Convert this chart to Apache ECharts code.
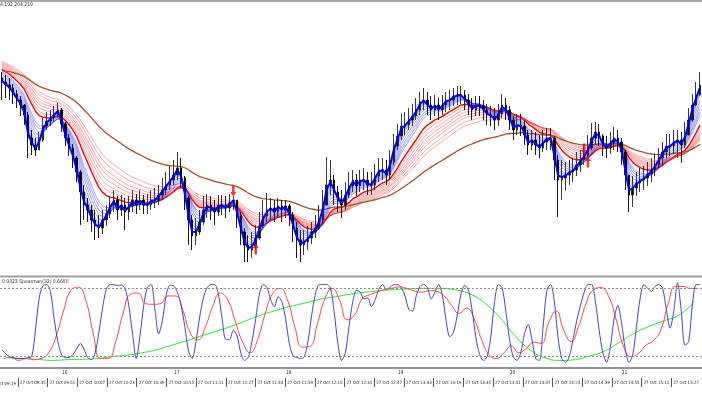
<!DOCTYPE html>
<html><head><meta charset="utf-8">
<script src="https://cdn.jsdelivr.net/npm/echarts@6/dist/echarts.min.js"></script>
<style>html,body{margin:0;padding:0;background:#fff;overflow:hidden}#c{width:702px;height:395px}</style>
</head><body><div id="c"></div>
<script>
// ---- price bars (2-minute bars) ----
const firstOpen = 204.22;
const closes = [
204.18,204.15,204.12,204.06,204.00,203.95,203.85,203.62,203.55,203.50,
203.60,203.74,203.79,203.82,203.86,203.90,203.76,203.62,203.52,203.42,
203.28,203.08,202.95,202.90,202.80,202.74,202.72,202.80,202.86,202.95,
203.00,202.90,202.95,202.88,202.94,203.00,202.95,203.00,202.95,202.95,
203.00,203.00,203.05,203.10,203.15,203.20,203.25,203.32,203.22,203.02,
202.80,202.64,202.68,202.78,202.90,202.95,202.92,202.88,202.95,202.95,
202.92,202.97,203.00,202.85,202.68,202.55,202.50,202.54,202.62,202.74,
202.84,202.90,202.92,202.88,202.94,202.90,202.94,202.85,202.72,202.60,
202.55,202.58,202.62,202.68,202.72,202.80,202.95,203.15,203.20,203.08,
203.00,202.95,203.05,203.14,203.20,203.14,203.20,203.20,203.15,203.15,
203.24,203.30,203.30,203.25,203.38,203.54,203.64,203.74,203.75,203.80,
203.84,203.90,203.98,204.00,203.95,203.90,203.95,203.90,203.95,204.00,
204.00,204.04,204.05,204.05,204.00,203.95,203.90,203.95,203.94,203.90,
203.85,203.84,203.80,203.86,203.95,203.90,203.80,203.70,203.75,203.74,
203.65,203.55,203.60,203.55,203.52,203.58,203.62,203.62,203.40,203.20,
203.22,203.25,203.28,203.30,203.35,203.40,203.45,203.52,203.62,203.68,
203.64,203.54,203.52,203.57,203.62,203.58,203.48,203.25,203.05,203.12,
203.17,203.20,203.22,203.26,203.30,203.35,203.42,203.48,203.54,203.54,
203.58,203.60,203.55,203.65,203.80,203.95,204.05,204.15];
const highs = [
204.28,204.25,204.22,204.16,204.10,204.04,203.96,203.88,203.70,203.62,
203.68,203.82,203.88,203.90,203.94,203.97,203.92,203.78,203.66,203.56,
203.44,203.30,203.15,203.02,202.95,202.90,202.85,202.90,202.95,203.04,
203.10,203.04,203.05,203.02,203.04,203.10,203.06,203.10,203.05,203.06,
203.10,203.12,203.15,203.22,203.28,203.34,203.40,203.48,203.42,203.24,
203.04,202.85,202.82,202.90,203.04,203.06,203.04,203.00,203.05,203.05,
203.04,203.06,203.04,203.00,202.88,202.72,202.65,202.68,202.75,202.88,
203.00,203.07,203.02,203.00,203.02,203.00,203.00,202.96,202.88,202.78,
202.70,202.70,202.74,202.78,202.85,202.95,203.10,203.43,203.40,203.25,
203.14,203.10,203.18,203.28,203.30,203.26,203.30,203.32,203.28,203.28,
203.36,203.42,203.42,203.40,203.50,203.66,203.76,203.86,203.88,203.92,
203.96,204.02,204.08,204.12,204.08,204.04,204.05,204.02,204.05,204.08,
204.10,204.12,204.14,204.14,204.10,204.06,204.02,204.04,204.04,204.00,
203.96,203.94,203.92,203.96,204.06,204.02,203.94,203.84,203.86,203.86,
203.80,203.70,203.70,203.68,203.65,203.70,203.72,203.72,203.64,203.45,
203.40,203.38,203.40,203.42,203.48,203.50,203.56,203.65,203.77,203.78,
203.76,203.66,203.64,203.68,203.73,203.70,203.62,203.50,203.25,203.24,
203.28,203.32,203.34,203.38,203.42,203.46,203.52,203.58,203.66,203.66,
203.70,203.70,203.68,203.78,203.92,204.06,204.18,204.28];
const lows = [
204.00,204.02,204.00,203.96,203.92,203.84,203.75,203.42,203.45,203.44,
203.50,203.58,203.70,203.74,203.78,203.82,203.68,203.54,203.44,203.32,
203.18,202.75,202.80,202.78,202.68,202.60,202.62,202.66,202.74,202.82,
202.88,202.80,202.84,202.70,202.80,202.88,202.86,202.90,202.86,202.86,
202.90,202.92,202.95,203.00,203.05,203.10,203.15,203.20,203.12,202.90,
202.55,202.50,202.55,202.65,202.75,202.82,202.80,202.75,202.84,202.85,
202.82,202.88,202.90,202.72,202.55,202.38,202.38,202.42,202.50,202.60,
202.72,202.78,202.80,202.78,202.82,202.78,202.82,202.74,202.58,202.42,
202.38,202.45,202.50,202.56,202.62,202.70,202.75,202.95,203.05,202.95,
202.88,202.82,202.90,203.02,203.08,203.04,203.08,203.10,203.05,203.05,
203.10,203.18,203.20,203.15,203.20,203.35,203.50,203.60,203.65,203.70,
203.74,203.80,203.85,203.90,203.85,203.80,203.84,203.80,203.85,203.88,
203.90,203.94,203.95,203.96,203.90,203.85,203.80,203.84,203.84,203.80,
203.75,203.74,203.70,203.74,203.82,203.80,203.70,203.60,203.65,203.64,
203.55,203.45,203.50,203.45,203.42,203.48,203.50,203.50,203.20,202.83,
203.00,203.10,203.15,203.18,203.24,203.28,203.35,203.42,203.50,203.55,
203.54,203.44,203.42,203.46,203.50,203.48,203.35,203.10,202.88,202.93,
203.04,203.08,203.10,203.14,203.18,203.24,203.32,203.35,203.42,203.44,
203.46,203.42,203.37,203.52,203.65,203.78,203.94,204.04];

// ---- moving-average ribbon settings (periods in bars, start values read at the left edge) ----
const thickPeriod = 1.5, thickSeed = 204.24;
const bluePeriods = [2, 2.5, 3, 4, 5, 6, 7, 8];
const blueSeeds   = [204.26, 204.27, 204.28, 204.29, 204.30, 204.31, 204.32, 204.33];
const redPeriods  = [12, 14, 16, 18, 20, 22, 25, 28];
const redSeeds    = [204.33, 204.34, 204.35, 204.36, 204.37, 204.38, 204.39, 204.40];
const brownPeriod = 50, brownSeed = 204.30;

// ---- signal arrows [bar, price] ----
const arrowsDown = [[62, 203.09], [156, 203.51]];
const arrowsUp   = [[68, 202.51], [157, 203.38]];

// ---- Spearman window ----
const spearman = [
-0.72,-0.82,-0.9,-0.93,-0.95,-0.95,-0.95,-0.93,-0.9,-0.2,
0.65,0.97,1.0,0.82,0.1,-0.5,-0.85,-0.93,-0.92,-0.85,
-0.7,-0.55,-0.7,-0.93,-0.98,-0.8,-0.25,0.4,0.88,1.0,
1.0,0.97,0.99,0.9,0.45,-0.3,-0.95,-0.35,0.45,0.93,
1.0,0.35,-0.3,0.05,0.7,0.98,0.97,0.8,0.45,-0.1,
-0.75,-0.95,-0.5,0.15,0.65,0.92,1.0,1.0,0.75,0.1,
-0.45,-0.45,-0.2,-0.35,-0.8,-1.0,-0.92,-0.5,0.1,0.75,
1.0,0.93,0.6,0.42,0.68,0.55,0.1,-0.55,-0.88,-0.92,
-0.95,-0.9,-0.5,0.2,0.75,1.0,1.0,1.0,0.92,0.3,
-0.55,-1.0,-0.8,-0.1,0.55,0.85,0.8,0.62,0.65,0.42,
0.6,0.88,1.0,0.87,0.93,1.0,1.0,0.92,0.7,0.35,
0.3,0.7,0.95,1.0,0.92,0.62,0.8,1.0,0.72,0.05,
-0.38,-0.25,0.2,0.75,0.98,0.85,0.3,-0.4,-0.85,-1.0,
-0.9,-0.35,0.55,1.0,0.92,0.3,-0.45,-0.9,-1.0,-0.8,
-0.3,-0.05,-0.45,-0.95,-1.0,-0.1,0.85,1.0,0.55,-0.4,
-0.95,-1.05,-0.9,-0.45,0.05,0.45,0.8,1.0,1.0,0.55,
-0.2,-0.8,-1.05,-0.65,0.1,0.45,0.0,-0.7,-1.05,-0.85,
-0.1,0.65,1.0,0.9,0.82,0.95,1.0,0.9,0.35,-0.15,
0.3,1.05,0.3,-0.6,-0.5,0.5,1.0,1.0];
const signalRed = [
-0.95,-0.92,-1.0,-0.95,-0.98,-0.95,-0.8,-0.38,0.3,0.85,
0.93,0.58,-0.3,-0.95,-0.95,-0.5,0.25,0.75,0.78,0.5,
0.48,0.5,0.7,0.7,0.32,-0.28,-0.46,-0.12,0.43,0.78,
0.6,0.04,-0.52,-0.8,-0.45,0.22,0.76,0.9,0.6,-0.12,
-0.65,-0.63,-0.05,0.62,0.9,0.58,0.07,0.2,0.62,0.73,
0.8,0.87,0.9,0.94,0.9,0.83,0.8,0.84,0.82,0.7,
0.45,0.24,0.38,0.1,-0.45,-0.85,-0.95,-0.8,-0.62,-0.8,
-0.68,-0.52,-0.55,0.0,0.3,-0.2,-0.5,-0.1,0.5,0.87,
0.92,0.7,0.1,-0.62,-0.9,-0.82,-0.6,-0.48,-0.2,0.5,
0.95,0.95,0.9,0.9];
const signalGreen = [
-0.93,-0.95,-0.97,-1.0,-0.98,-0.97,-0.95,-0.9,-0.86,-0.8,
-0.72,-0.6,-0.48,-0.35,-0.23,-0.1,0.05,0.2,0.32,0.43,
0.52,0.62,0.68,0.75,0.8,0.84,0.87,0.89,0.9,0.9,
0.86,0.75,0.5,0.12,-0.35,-0.72,-0.93,-1.0,-0.98,-0.88,
-0.75,-0.52,-0.28,-0.1,0.05,0.2,0.55];
const oscLevels = [0.9, -0.9];

// ---- texts and axis ticks (minutes after 09:00) ----
const priceLabel = '4.192 204.219';
const oscLabel = '0.9323 Spearman(32) 0.6680';
const timeTicks = [19,35,51,67,83,99,115,131,147,163,179,195,211,227,243,259,275,291,307,323,339,355,371,387];
const timeLabels = ['27 Oct 09:19','27 Oct 09:35','27 Oct 09:51','27 Oct 10:07','27 Oct 10:23','27 Oct 10:39',
'27 Oct 10:55','27 Oct 11:11','27 Oct 11:27','27 Oct 11:43','27 Oct 11:59','27 Oct 12:15','27 Oct 12:31',
'27 Oct 12:47','27 Oct 13:03','27 Oct 13:19','27 Oct 13:35','27 Oct 13:51','27 Oct 14:07','27 Oct 14:23',
'27 Oct 14:39','27 Oct 14:55','27 Oct 15:11','27 Oct 15:27'];
const hourTicks = [60,120,180,240,300,360];
const hourLabels = ['16','17','18','19','20','21'];
const axisMinutes = [25.35, 401.5];   // minutes after 09:00 at the left and right edge

// ---- build ----
function ema(src, period, seed){
  const a = 2/(period+1); let e = seed;
  return src.map(c => { e = e + a*(c-e); return +e.toFixed(4); });
}
const opens = closes.map((c,i) => i === 0 ? firstOpen : closes[i-1]);
const candleData = closes.map((c,i) => [opens[i], c, lows[i], highs[i]]);
const cats = closes.map((c,i) => String(i));
const FONT = '"Liberation Sans Narrow","DejaVu Sans Condensed","Liberation Sans",sans-serif';

const series = [];
redPeriods.forEach((p,i) => {
  series.push({type:'line', xAxisIndex:0, yAxisIndex:0, data: ema(closes,p,redSeeds[i]),
    showSymbol:false, silent:true, z:2,
    lineStyle:{width: i===0 ? 1.4 : 0.7, color: i===0 ? '#ff0000' : 'rgba(255,30,30,0.55)'}});
});
series.push({type:'line', xAxisIndex:0, yAxisIndex:0, data: ema(closes,brownPeriod,brownSeed),
  showSymbol:false, silent:true, z:3, lineStyle:{width:1.3, color:'#a0522d'}});
bluePeriods.forEach((p,i) => {
  series.push({type:'line', xAxisIndex:0, yAxisIndex:0, data: ema(closes,p,blueSeeds[i]),
    showSymbol:false, silent:true, z:4, lineStyle:{width:0.7, color:'rgba(30,30,255,0.55)'}});
});
series.push({type:'candlestick', xAxisIndex:0, yAxisIndex:0, data: candleData, barWidth:2, z:5,
  itemStyle:{color:'#111', color0:'#000', borderColor:'#222', borderColor0:'#000', borderWidth:0.9}});
series.push({type:'line', xAxisIndex:0, yAxisIndex:0, data: ema(closes,thickPeriod,thickSeed),
  showSymbol:false, silent:true, z:6, lineStyle:{width:2, color:'#0000ff'}});
const arrowPath = 'path://M5,0L10,5L7,5L7,12L3,12L3,5L0,5Z';
series.push({type:'scatter', xAxisIndex:0, yAxisIndex:0, data: arrowsUp, symbol: arrowPath,
  symbolSize:[6,11], z:7, itemStyle:{color:'#ff0000'}});
series.push({type:'scatter', xAxisIndex:0, yAxisIndex:0, data: arrowsDown, symbol: arrowPath,
  symbolSize:[6,11], symbolRotate:180, z:7, itemStyle:{color:'#ff0000'}});
series.push({type:'line', xAxisIndex:3, yAxisIndex:1, data: signalGreen, smooth:true,
  showSymbol:false, silent:true, lineStyle:{width:1, color:'#33dd33'}});
series.push({type:'line', xAxisIndex:2, yAxisIndex:1, data: signalRed, smooth:true,
  showSymbol:false, silent:true, lineStyle:{width:1, color:'#ff4a4a'}});
series.push({type:'line', xAxisIndex:1, yAxisIndex:1, data: spearman, smooth:0.3,
  showSymbol:false, silent:true, lineStyle:{width:1, color:'#4646c0'},
  markLine:{symbol:'none', silent:true, label:{show:false}, animation:false,
    lineStyle:{color:'#8c8c8c', type:[2,2], width:1},
    data: oscLevels.map(v => ({yAxis:v}))}});

const hid = {show:false};
const option = {
  animation:false,
  backgroundColor:'#ffffff',
  grid:[
    {left:0, top:3, width:701.8, height:272},
    {left:0, top:277, width:701.8, height:91},
    {left:0, top:369, width:702, height:9},
    {left:0, top:360, width:702, height:9}
  ],
  xAxis:[
    {type:'category', gridIndex:0, data:cats, show:false},
    {type:'category', gridIndex:1, data:cats,
      axisLine:{show:true, onZero:false, lineStyle:{color:'#6e6e6e', width:1.5}},
      axisTick:hid, axisLabel:hid, splitLine:hid},
    {type:'category', gridIndex:1, data:signalRed.map((v,i)=>String(i)), show:false},
    {type:'category', gridIndex:1, data:signalGreen.map((v,i)=>String(i)), show:false},
    {type:'value', gridIndex:2, min:axisMinutes[0], max:axisMinutes[1], axisLine:{show:false, onZero:false}, splitLine:hid,
      axisTick:{show:true, length:9, customValues: timeTicks, lineStyle:{color:'#555', width:1}},
      axisLabel:{show:true, customValues: timeTicks, margin:3, align:'left', padding:[0,0,0,2],
        fontSize:4.4, fontFamily:FONT, color:'#222',
        formatter: v => { const i = timeTicks.indexOf(Math.round(v)); return i >= 0 ? timeLabels[i] : ''; }}},
    {type:'value', gridIndex:3, min:axisMinutes[0], max:axisMinutes[1], axisLine:{show:false, onZero:false},
      axisTick:hid, splitLine:hid,
      axisLabel:{show:true, customValues: hourTicks, margin:1, fontSize:5, fontFamily:FONT, color:'#222',
        formatter: v => { const i = hourTicks.indexOf(Math.round(v)); return i >= 0 ? hourLabels[i] : ''; }}}
  ],
  yAxis:[
    {type:'value', gridIndex:0, min:202.25, max:204.97, show:false},
    {type:'value', gridIndex:1, min:-1.2, max:1.2, show:false},
    {type:'value', gridIndex:2, show:false},
    {type:'value', gridIndex:3, show:false}
  ],
  series: series
};
const chart = echarts.init(document.getElementById('c'));
chart.setOption(option);
// the first time label starts left of the visible area: place it through the same axis scale
const firstX = chart.convertToPixel({xAxisIndex:4}, timeTicks[0]);
chart.setOption({graphic:[
  {type:'rect', shape:{x:0, y:0, width:702, height:2}, style:{fill:'#a9a9a9'}, silent:true},
  {type:'rect', shape:{x:0, y:275.5, width:702, height:2}, style:{fill:'#a0a0a0'}, silent:true},
  {type:'text', x:0, y:5, style:{text:priceLabel, fontSize:5, fontFamily:FONT, fill:'#333', verticalAlign:'middle'}, silent:true},
  {type:'text', x:2, y:282, style:{text:oscLabel, fontSize:5, fontFamily:FONT, fill:'#333', verticalAlign:'middle'}, silent:true},
  {type:'text', x:firstX + 2, y:384, style:{text:timeLabels[0], fontSize:4.4, fontFamily:FONT, fill:'#222', verticalAlign:'middle'}, silent:true}
]});
</script>
</body></html>
